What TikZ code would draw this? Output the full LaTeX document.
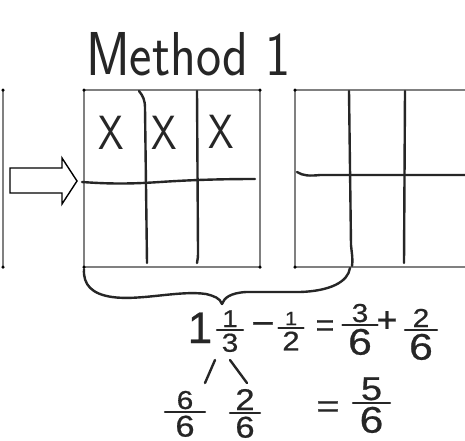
\documentclass[tikz,border=0pt]{standalone}
\usepackage{fontspec}
\newfontfamily\handfont[FakeBold=0.6]{Liberation Sans}
\tikzset{
  border/.style={draw=black!50, line width=1.5pt},
  pen/.style={draw=black!85, line width=2.4pt, line cap=round, line join=round},
  dotmark/.style={circle, fill=black, inner sep=0pt, minimum size=3.5pt},
  hand/.style={inner sep=0pt, text depth=0pt, font=\handfont, text=black!85},
}
\newcommand\fracat[8]{% x, bar y, half width, num size, den size, num, den, name
  \node[hand, anchor=base, xscale=1.15, font=\handfont\fontsize{#4}{#4}\selectfont] (#8n) at (#1,#2-3) {#6};
  \draw[pen] (#1-#3,#2) -- (#1+#3,#2);
  \node[hand, anchor=base, xscale=1.15, font=\handfont\fontsize{#5}{#5}\selectfont] (#8d) at (#1,#2+3+0.72*#5) {#7};
}
\begin{document}
\begin{tikzpicture}[x=1pt,y=-1pt]
\fill[white] (0,0) rectangle (465,440);
\useasboundingbox (0,0) rectangle (465,440);

% title
\node[hand, anchor=base west, font=\sffamily\fontsize{62}{62}\selectfont, xscale=0.86] (title) at (86,75) {Method 1};

% corners
\coordinate (L1) at (3,90);   \coordinate (L2) at (3,267);
\coordinate (A1) at (84,90);  \coordinate (A2) at (260,90);
\coordinate (A3) at (260,267);\coordinate (A4) at (84,267);
\coordinate (B1) at (295,90); \coordinate (B2) at (466,90);
\coordinate (B3) at (466,267);\coordinate (B4) at (295,267);

\draw[border] (L1) -- (L2);
\draw[border] (A1) -- (A2) -- (A3) -- (A4) -- cycle;
\draw[border] (B2) -- (B1) -- (B4) -- (B3);
\foreach \c in {L1,L2,A1,A2,A3,A4,B1,B4}
  \node[dotmark] at (\c) {};

% dividers square A
\draw[pen] (139,91) .. controls (143,96) and (145,100) .. (145,108) -- (147,263);
\draw[pen] (197,91) -- (198,250) .. controls (198,256) and (198,259) .. (197,263);
\draw[pen] (82,182) .. controls (110,184) and (130,184) .. (160,182) .. controls (190,180) and (220,179) .. (255,179);

% dividers square B
\draw[pen] (349,91) -- (351,245) .. controls (352,255) and (353,260) .. (352,266);
\draw[pen] (405,91) -- (404,263);
\draw[pen] (297,172) .. controls (303,176) and (310,176) .. (320,175) -- (466,175);

% X marks
\node[hand, anchor=base, font=\sffamily\fontsize{48}{48}\selectfont, xscale=0.85] (x1) at (111,149) {X};
\node[hand, anchor=base, font=\sffamily\fontsize{48}{48}\selectfont, xscale=0.85] (x2) at (164,149) {X};
\node[hand, anchor=base, font=\sffamily\fontsize{48}{48}\selectfont, xscale=0.85] (x3) at (221,148) {X};

% block arrow
\draw[black, line width=1.4pt, line join=miter] (10,168) -- (62,168) -- (62,158) -- (77,181) -- (62,204) -- (62,193) -- (10,193) -- cycle;

% brace
\draw[pen] (84,269) .. controls (83,285) and (92,294) .. (112,297)
  .. controls (140,301) and (180,290) .. (206,294)
  .. controls (214,296) and (220,298) .. (222,304)
  .. controls (224,298) and (230,293) .. (246,292)
  -- (300,292) .. controls (330,291) and (348,282) .. (350,268);

% equation line 1
\node[hand, anchor=base, font=\handfont\fontsize{44}{44}\selectfont] (one) at (200,343) {1};
\fracat{230}{330}{13}{24}{26}{1}{3}{fa}
\node[hand, anchor=base, font=\handfont\fontsize{32}{32}\selectfont, xscale=1.25] (minus) at (263,334) {−};
\fracat{291}{328}{12.5}{19}{27}{1}{2}{fb}
\node[hand, anchor=base, font=\handfont\fontsize{32}{32}\selectfont] (eqa) at (325,336) {=};
\fracat{360}{325}{17.5}{26}{37}{3}{6}{fc}
\node[hand, anchor=base, font=\handfont\fontsize{36}{36}\selectfont] (plus) at (387,332) {+};
\fracat{421}{330}{16}{26}{37}{2}{6}{fd}

% split
\coordinate (s1) at (215,360); \coordinate (s2) at (205,383);
\coordinate (s3) at (230,360); \coordinate (s4) at (247,383);
\draw[pen] (s1) -- (s2);
\draw[pen] (s3) -- (s4);

% equation line 2
\fracat{185}{412}{20}{26}{30}{6}{6}{fe}
\fracat{245}{413}{15}{30}{30}{2}{6}{ff}
\node[hand, anchor=base, font=\handfont\fontsize{32}{32}\selectfont, xscale=1.25] (eqb) at (328,417) {=};
\fracat{371.5}{403}{18.5}{33}{37}{5}{6}{fg}
\end{tikzpicture}
\end{document}
